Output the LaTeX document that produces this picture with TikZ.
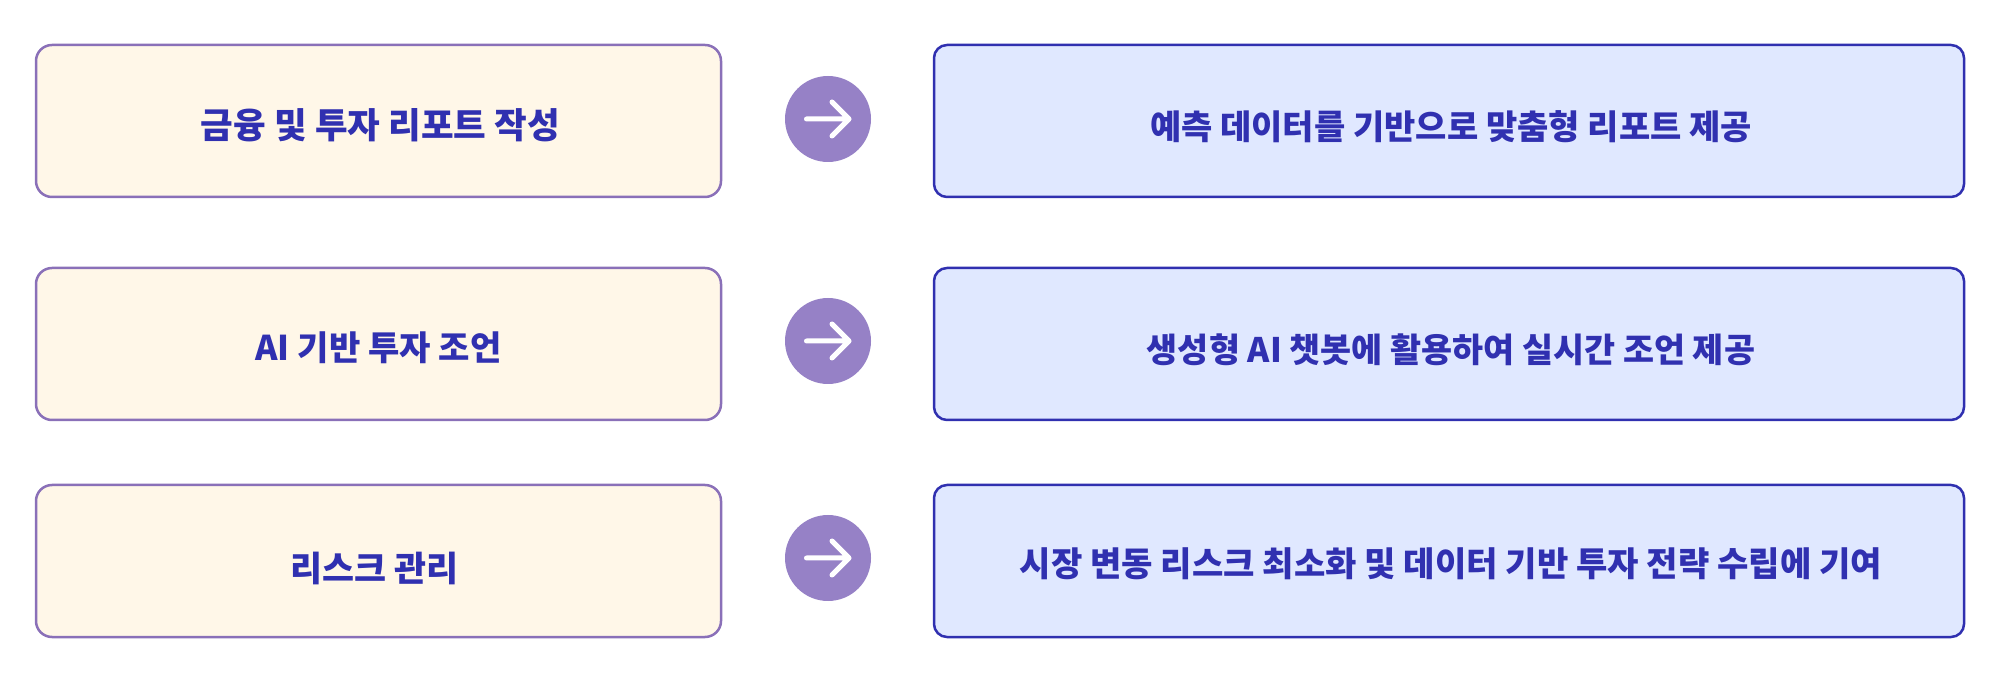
\documentclass[tikz,border=0pt]{standalone}
\usepackage{fontspec}
\setmainfont{Noto Sans CJK KR}
\usepackage{xcolor}
\usetikzlibrary{positioning,calc}
\definecolor{boxink}{HTML}{3030B0}
\definecolor{boxedge}{HTML}{8A70B8}
\definecolor{creamfill}{HTML}{FFF7E8}
\definecolor{bluefill}{HTML}{E0E8FF}
\definecolor{dotfill}{HTML}{9681C6}
\tikzset{
  base/.style={line width=0.025cm,text=boxink,minimum height=1.52cm,inner sep=0pt,text depth=0pt},
  size/.style={font=\fontsize{#1}{12pt}\selectfont\bfseries},
  task/.style={base,size=9.9pt,rounded corners=0.16cm,draw=boxedge,fill=creamfill,minimum width=6.85cm,text height=0.33cm},
  gain/.style={base,size=9.67pt,rounded corners=0.13cm,draw=boxink,fill=bluefill,minimum width=10.3cm,text height=0.37cm},
  dot/.style={circle,fill=dotfill,minimum size=0.86cm,inner sep=0pt},
  icon/.style={draw=white,line width=0.05cm,line cap=round,line join=round}
}
\begin{document}
\begin{tikzpicture}
    \useasboundingbox (0,0) rectangle (20.10,6.90);
    % left column
    \node[task,size=10.1pt,text height=0.35cm] (task1) at (3.785,5.69) {\hspace*{0.04cm}금융 및 투자 리포트 작성};
    \node[task,size=9.7pt] (task2) at (3.785,3.46) {AI 기반 투자 조언};
    \node[task,text height=0.41cm] (task3) at (3.785,1.29) {리스크 관리\hspace*{0.08cm}};
    % right column
    \node[gain] (gain1) at (14.49,5.69) {\hspace*{0.04cm}예측 데이터를 기반으로 맞춤형 리포트 제공};
    \node[gain,size=9.6pt] (gain2) at (14.49,3.46) {\hspace*{0.04cm}생성형 AI 챗봇에 활용하여 실시간 조언 제공};
    \node[gain,size=9.7pt,text height=0.31cm] (gain3) at (14.49,1.29) {\hspace*{0.04cm}시장 변동 리스크 최소화 및 데이터 기반 투자 전략 수립에 기여};
    % arrow dots
    \node[dot] (dot1) at (8.28,5.71) {};
    \node[dot] (dot2) at (8.28,3.49) {};
    \node[dot] (dot3) at (8.28,1.32) {};
    \draw[icon] ($(dot1)+(-0.215,0)$) -- ($(dot1)+(0.21,0)$) -- ++(-0.17,0.17) ($(dot1)+(0.21,0)$) -- ++(-0.17,-0.17);
    \draw[icon] ($(dot2)+(-0.215,0)$) -- ($(dot2)+(0.21,0)$) -- ++(-0.17,0.17) ($(dot2)+(0.21,0)$) -- ++(-0.17,-0.17);
    \draw[icon] ($(dot3)+(-0.215,0)$) -- ($(dot3)+(0.21,0)$) -- ++(-0.17,0.17) ($(dot3)+(0.21,0)$) -- ++(-0.17,-0.17);
\end{tikzpicture}
\end{document}
